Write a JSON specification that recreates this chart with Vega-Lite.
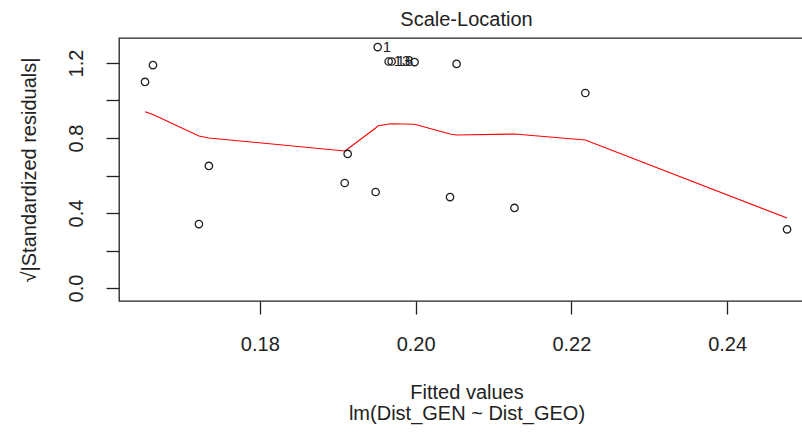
{
  "$schema": "https://vega.github.io/schema/vega-lite/v6.json",
  "autosize": "none",
  "width": 695,
  "height": 263,
  "padding": {"left": 119, "top": 38, "right": 0, "bottom": 133},
  "background": "white",
  "config": {
    "font": "Liberation Sans",
    "view": {"stroke": "#222222", "strokeWidth": 1.3},
    "axis": {"grid": false, "domain": false, "tickColor": "#222222", "labelColor": "#222222", "titleColor": "#222222", "labelFontSize": 20, "titleFontSize": 20, "titleFontWeight": "normal", "tickSize": 13, "tickWidth": 1.3}
  },
  "title": {"text": "Scale-Location", "fontSize": 20, "fontWeight": "normal", "color": "#222222", "anchor": "middle", "baseline": "alphabetic", "offset": -8},
  "datasets": {
    "points": [
      {"fitted": 0.16526, "sqrt_std_resid": 1.099, "id": ""},
      {"fitted": 0.16628, "sqrt_std_resid": 1.189, "id": ""},
      {"fitted": 0.17218, "sqrt_std_resid": 0.341, "id": ""},
      {"fitted": 0.17346, "sqrt_std_resid": 0.651, "id": ""},
      {"fitted": 0.19090, "sqrt_std_resid": 0.560, "id": ""},
      {"fitted": 0.19128, "sqrt_std_resid": 0.715, "id": ""},
      {"fitted": 0.19487, "sqrt_std_resid": 0.512, "id": ""},
      {"fitted": 0.19513, "sqrt_std_resid": 1.285, "id": "1"},
      {"fitted": 0.19654, "sqrt_std_resid": 1.208, "id": "13"},
      {"fitted": 0.19692, "sqrt_std_resid": 1.208, "id": "18"},
      {"fitted": 0.19987, "sqrt_std_resid": 1.205, "id": ""},
      {"fitted": 0.20526, "sqrt_std_resid": 1.195, "id": ""},
      {"fitted": 0.20442, "sqrt_std_resid": 0.485, "id": ""},
      {"fitted": 0.21269, "sqrt_std_resid": 0.427, "id": ""},
      {"fitted": 0.22179, "sqrt_std_resid": 1.040, "id": ""},
      {"fitted": 0.24769, "sqrt_std_resid": 0.313, "id": ""}
    ],
    "smooth": [
      {"fitted": 0.16526, "smooth": 0.940},
      {"fitted": 0.16628, "smooth": 0.925},
      {"fitted": 0.17218, "smooth": 0.811},
      {"fitted": 0.17346, "smooth": 0.800},
      {"fitted": 0.19090, "smooth": 0.731},
      {"fitted": 0.19128, "smooth": 0.741},
      {"fitted": 0.19487, "smooth": 0.853},
      {"fitted": 0.19513, "smooth": 0.864},
      {"fitted": 0.19654, "smooth": 0.875},
      {"fitted": 0.19692, "smooth": 0.876},
      {"fitted": 0.19987, "smooth": 0.873},
      {"fitted": 0.20442, "smooth": 0.821},
      {"fitted": 0.20526, "smooth": 0.816},
      {"fitted": 0.21269, "smooth": 0.821},
      {"fitted": 0.22179, "smooth": 0.789},
      {"fitted": 0.24769, "smooth": 0.373}
    ]
  },
  "encoding": {
    "x": {"field": "fitted", "type": "quantitative",
      "scale": {"domain": [0.16192, 0.25115], "nice": false, "zero": false},
      "axis": {"values": [0.18, 0.20, 0.22, 0.24], "format": ".2f", "labelPadding": 20, "labelFlush": false, "title": ["Fitted values", "lm(Dist_GEN ~ Dist_GEO)"], "titleLineHeight": 21, "titlePadding": 28}
    }
  },
  "layer": [
    {
      "data": {"name": "smooth"},
      "mark": {"type": "line", "color": "#FF0000", "strokeWidth": 1.1, "interpolate": "linear"},
      "encoding": {
        "y": {"field": "smooth", "type": "quantitative"}
      }
    },
    {
      "data": {"name": "points"},
      "mark": {"type": "point", "shape": "circle", "filled": false, "color": "#222222", "size": 55, "strokeWidth": 1.3, "opacity": 1},
      "encoding": {
        "y": {"field": "sqrt_std_resid", "type": "quantitative",
          "scale": {"domain": [-0.0693, 1.3333], "nice": false, "zero": false},
          "axis": {"values": [0, 0.2, 0.4, 0.6, 0.8, 1.0, 1.2], "labelExpr": "round(datum.value*10) % 4 == 0 ? format(datum.value, '.1f') : ''", "labelAngle": -90, "labelAlign": "center", "labelBaseline": "bottom", "labelPadding": 20, "title": "√|Standardized residuals|", "titlePadding": 27}
        }
      }
    },
    {
      "data": {"name": "points"},
      "mark": {"type": "text", "align": "left", "baseline": "middle", "dx": 5, "fontSize": 15, "color": "#222222"},
      "encoding": {
        "y": {"field": "sqrt_std_resid", "type": "quantitative"},
        "text": {"field": "id"}
      }
    }
  ]
}
